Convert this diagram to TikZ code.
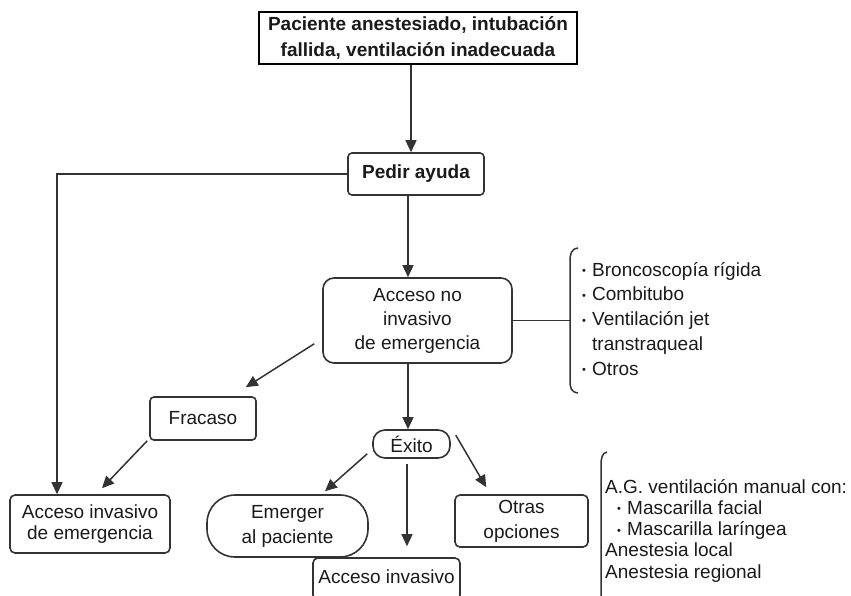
\documentclass[tikz,border=0pt]{standalone}
\usepackage{fontspec}
\setmainfont{Liberation Sans}
\usetikzlibrary{arrows.meta,calc}
\definecolor{ln}{HTML}{333333}
\definecolor{tx}{HTML}{1A1A1A}
\tikzset{
  box/.style={draw=ln, line width=1.6pt, text=tx, inner sep=0pt, align=center,
              font=\fontsize{19}{24}\selectfont},
  arr/.style={draw=ln, line width=1.5pt, -{Triangle[length=12pt,width=11pt]}},
  con/.style={draw=ln, line width=1.5pt},
  brk/.style={draw=ln, line width=1.5pt},
  lst/.style={text=tx, inner sep=0pt, align=left, anchor=north west}
}
\newcommand{\bul}{\makebox[10pt][l]{\raisebox{0.15ex}{\fontsize{11}{11}\selectfont\textbullet}}}
\begin{document}
\begin{tikzpicture}[x=1pt,y=-1pt]
\useasboundingbox (0,0) rectangle (851,595);
\fill[white] (0,0) rectangle (851,595);

\node[box, draw=black, line width=2pt, minimum width=318pt, minimum height=52pt,
      font=\bfseries\fontsize{19}{25}\selectfont] (top) at (418,38)
      {Paciente anestesiado, intubación\\fallida, ventilación inadecuada};
\node[box, rounded corners=4pt, minimum width=136pt, minimum height=42pt,
      font=\bfseries\fontsize{19}{24}\selectfont] (pedir) at (416,174) {Pedir ayuda};
\node[box, rounded corners=11pt, minimum width=189pt, minimum height=85pt] (noinv) at (417.5,320.5)
      {Acceso no\\invasivo\\de emergencia};
\node[box, rounded corners=4pt, minimum width=106pt, minimum height=43pt] (fracaso) at (203,418.5) {Fracaso};
\node[box, rounded corners=12pt, minimum width=77pt, minimum height=28pt] (exito) at (411.5,444) {Éxito};
\node[box, rounded corners=5pt, minimum width=160pt, minimum height=58pt,
      font=\fontsize{19}{21}\selectfont] (acinvem) at (90,524) {Acceso invasivo\\de emergencia};
\node[box, rounded corners=28pt, minimum width=161pt, minimum height=62pt,
      font=\fontsize{19}{25}\selectfont] (emerger) at (287.5,526) {Emerger\\al paciente};
\node[box, rounded corners=5pt, minimum width=133pt, minimum height=52pt,
      font=\fontsize{19}{25}\selectfont] (otras) at (521.5,521) {Otras\\opciones};
\node[box, rounded corners=5pt, minimum width=147pt, minimum height=42pt] (acinv) at (386.5,579) {};
\node[text=tx, inner sep=0pt, font=\fontsize{19}{24}\selectfont] (acinvtx) at (386.5,577) {Acceso invasivo};

% lists
\node[lst, font=\fontsize{19}{24.75}\selectfont] (list1) at (582,262)
  {\bul Broncoscopía rígida\\ \bul Combitubo\\ \bul Ventilación jet\\ \hspace*{10pt}transtraqueal\\ \bul Otros};
\node[lst, font=\fontsize{19}{21.25}\selectfont] (list2) at (605,479)
  {A.G. ventilación manual con:\\ \hspace*{12pt}\bul Mascarilla facial\\ \hspace*{12pt}\bul Mascarilla laríngea\\ Anestesia local\\ Anestesia regional};

% brackets
\coordinate (b1) at (570,322);
\draw[brk] (578,248) .. controls (571,249) and (570,254) .. (570,262) -- (570,380) .. controls (570,388) and (571,392) .. (578,393);
\draw[brk] (607,452) .. controls (602,453) and (601,458) .. (601,466) -- (601,600);

% connectors
\draw[arr] ($(top.south)+(-7,0)$) -- ($(pedir.north)+(-5,0)$);
\draw[arr] ($(pedir.south)+(-8,0)$) -- ($(noinv.north)+(-9.5,0)$);
\draw[arr] (pedir.west) -| ($(acinvem.north)+(-33,0)$);
\draw[con] (noinv.east) -- (noinv.east -| b1);
\draw[arr] ($(noinv.south west)+(-8,-20)$) -- ($(fracaso.north east)+(-11,-9)$);
\draw[arr] ($(fracaso.south west)+(-2,0)$) -- ($(acinvem.north)+(12,-6)$);
\draw[arr] ($(noinv.south)+(-9.5,0)$) -- ($(exito.north)+(-3.5,0)$);
\draw[arr] ($(exito.south west)+(-5,-5)$) -- ($(emerger.north)+(37.5,-3)$);
\draw[arr] ($(exito.south)+(-4.5,5)$) -- ($(acinv.north)+(20.5,-11)$);
\draw[arr] ($(exito.north east)+(5,6)$) -- ($(otras.north west)+(32,-7)$);
\end{tikzpicture}
\end{document}
